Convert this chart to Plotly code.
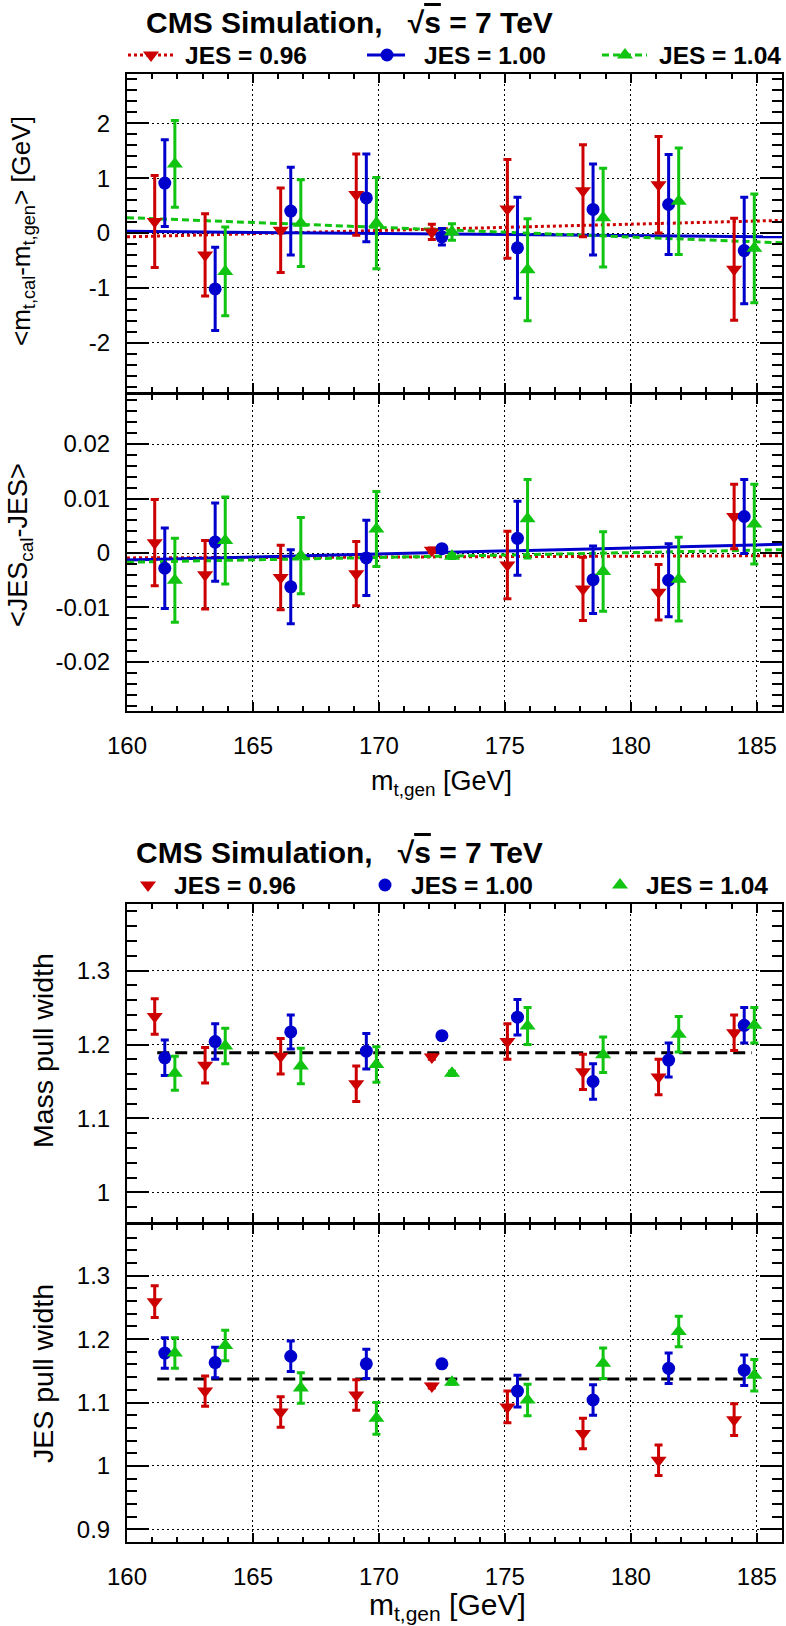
import plotly.graph_objects as go

W, H = 786, 1626

# ------------------------------------------------------------------ data
x_jes096 = [161.1, 163.1, 166.1, 169.1, 172.1, 175.1, 178.1, 181.1, 184.1]
x_jes100 = [161.5, 163.5, 166.5, 169.5, 172.5, 175.5, 178.5, 181.5, 184.5]
x_jes104 = [161.9, 163.9, 166.9, 169.9, 172.9, 175.9, 178.9, 181.9, 184.9]

# <m_cal - m_gen> [GeV]
mbias_096 = [0.21, -0.40, 0.05, 0.70, 0.02, 0.44, 0.77, 0.88, -0.66]
mbias_096_err = [0.84, 0.75, 0.77, 0.74, 0.14, 0.90, 0.84, 0.88, 0.93]
mbias_100 = [0.91, -1.02, 0.40, 0.64, -0.07, -0.27, 0.43, 0.52, -0.32]
mbias_100_err = [0.79, 0.76, 0.80, 0.80, 0.15, 0.92, 0.83, 0.91, 0.97]
mbias_104 = [1.26, -0.70, 0.18, 0.18, 0.02, -0.67, 0.28, 0.58, -0.28]
mbias_104_err = [0.79, 0.81, 0.79, 0.83, 0.15, 0.93, 0.90, 0.97, 0.99]

# <JES_cal - JES>
jbias_096 = [0.0019, -0.0040, -0.0045, -0.0038, 0.0005, -0.0022, -0.0066, -0.0072, 0.0067]
jbias_096_err = [0.0079, 0.0063, 0.0059, 0.0059, 0.0004, 0.0062, 0.0058, 0.0051, 0.0059]
jbias_100 = [-0.0028, 0.0020, -0.0062, -0.0009, 0.0008, 0.0027, -0.0049, -0.0050, 0.0067]
jbias_100_err = [0.0074, 0.0072, 0.0068, 0.0069, 0.0004, 0.0068, 0.0062, 0.0067, 0.0068]
jbias_104 = [-0.0050, 0.0023, -0.0005, 0.0044, -0.0006, 0.0063, -0.0034, -0.0048, 0.0053]
jbias_104_err = [0.0077, 0.0080, 0.0070, 0.0069, 0.0004, 0.0072, 0.0073, 0.0077, 0.0073]

# linear fits (values at the ends of the mass range)
fit_x = [160, 186]
fit_mbias_096 = [-0.07, 0.23]
fit_mbias_100 = [0.03, -0.07]
fit_mbias_104 = [0.28, -0.18]
fit_jbias_096 = [-0.0009, -0.0005]
fit_jbias_100 = [-0.0013, 0.0016]
fit_jbias_104 = [-0.0017, 0.0006]

# mass pull width
mpull_096 = [1.238, 1.172, 1.184, 1.147, 1.183, 1.204, 1.163, 1.156, 1.216]
mpull_096_err = [0.024, 0.024, 0.024, 0.024, 0.003, 0.024, 0.024, 0.024, 0.024]
mpull_100 = [1.182, 1.204, 1.217, 1.191, 1.212, 1.237, 1.150, 1.179, 1.226]
mpull_100_err = [0.024, 0.024, 0.023, 0.024, 0.003, 0.024, 0.024, 0.023, 0.024]
mpull_104 = [1.161, 1.198, 1.171, 1.173, 1.161, 1.225, 1.186, 1.214, 1.226]
mpull_104_err = [0.023, 0.024, 0.024, 0.024, 0.003, 0.025, 0.024, 0.024, 0.024]
mpull_mean_x = [161.2, 184.8]
mpull_mean = [1.189, 1.189]

# JES pull width
jpull_096 = [1.259, 1.118, 1.085, 1.112, 1.126, 1.093, 1.051, 1.009, 1.073]
jpull_096_err = [0.025, 0.024, 0.024, 0.024, 0.003, 0.025, 0.024, 0.024, 0.025]
jpull_100 = [1.178, 1.163, 1.173, 1.161, 1.161, 1.118, 1.104, 1.154, 1.151]
jpull_100_err = [0.024, 0.024, 0.024, 0.023, 0.003, 0.025, 0.024, 0.024, 0.024]
jpull_104 = [1.178, 1.190, 1.123, 1.075, 1.132, 1.104, 1.162, 1.212, 1.143]
jpull_104_err = [0.024, 0.024, 0.024, 0.025, 0.003, 0.025, 0.024, 0.024, 0.025]
jpull_mean_x = [161.2, 184.7]
jpull_mean = [1.137, 1.137]

series_names = ["JES = 0.96", "JES = 1.00", "JES = 1.04"]

x_ticks = [160, 165, 170, 175, 180, 185]
x_ticktext = ["160", "165", "170", "175", "180", "185"]
p1_ticks = [-2, -1, 0, 1, 2]
p1_ticktext = ["-2", "-1", "0", "1", "2"]
p2_ticks = [-0.02, -0.01, 0, 0.01, 0.02]
p2_ticktext = ["-0.02", "-0.01", "0", "0.01", "0.02"]
p3_ticks = [1.0, 1.1, 1.2, 1.3]
p3_ticktext = ["1", "1.1", "1.2", "1.3"]
p4_ticks = [0.9, 1.0, 1.1, 1.2, 1.3]
p4_ticktext = ["0.9", "1", "1.1", "1.2", "1.3"]

# ------------------------------------------------------------------ style
RED, BLUE, GREEN = "#cc0000", "#0000cc", "#11c411"
COLORS = [RED, BLUE, GREEN]
SYMBOLS = ["triangle-down", "circle", "triangle-up"]
MSIZE = [14, 13, 14]
FIT_DASH = ["dot", "solid", "7px,4px"]
FONT = "Liberation Sans, Arial, Helvetica, sans-serif"

X0, X1 = 127, 782
PANELS = {  # top, bottom in pixels
    1: (74, 392), 2: (395, 711), 3: (904, 1222), 4: (1225, 1542)}


def ydom(k):
    t, b = PANELS[k]
    return [1 - b / H, 1 - t / H]


fig = go.Figure()


def add_points(k, xs, ys, errs):
    for i in range(3):
        fig.add_trace(go.Scatter(
            x=xs[i], y=ys[i], mode="markers", name=series_names[i],
            marker=dict(symbol=SYMBOLS[i], size=MSIZE[i], color=COLORS[i],
                        line=dict(width=0)),
            error_y=dict(type="data", array=errs[i], color=COLORS[i],
                         thickness=3, width=4),
            xaxis="x%d" % k, yaxis="y%d" % k, showlegend=False))


xs = [x_jes096, x_jes100, x_jes104]

# panel 1
for i, f in enumerate([fit_mbias_096, fit_mbias_100, fit_mbias_104]):
    fig.add_trace(go.Scatter(x=fit_x, y=f, mode="lines",
                             line=dict(color=COLORS[i], width=3, dash=FIT_DASH[i]),
                             xaxis="x1", yaxis="y1", showlegend=False))
add_points(1, xs, [mbias_096, mbias_100, mbias_104],
           [mbias_096_err, mbias_100_err, mbias_104_err])
# panel 2
for i, f in enumerate([fit_jbias_096, fit_jbias_100, fit_jbias_104]):
    fig.add_trace(go.Scatter(x=fit_x, y=f, mode="lines",
                             line=dict(color=COLORS[i], width=3, dash=FIT_DASH[i]),
                             xaxis="x2", yaxis="y2", showlegend=False))
add_points(2, xs, [jbias_096, jbias_100, jbias_104],
           [jbias_096_err, jbias_100_err, jbias_104_err])
# panel 3
fig.add_trace(go.Scatter(x=mpull_mean_x, y=mpull_mean, mode="lines",
                         line=dict(color="black", width=3, dash="12px,6px"),
                         xaxis="x3", yaxis="y3", showlegend=False))
add_points(3, xs, [mpull_096, mpull_100, mpull_104],
           [mpull_096_err, mpull_100_err, mpull_104_err])
# panel 4
fig.add_trace(go.Scatter(x=jpull_mean_x, y=jpull_mean, mode="lines",
                         line=dict(color="black", width=3, dash="12px,6px"),
                         xaxis="x4", yaxis="y4", showlegend=False))
add_points(4, xs, [jpull_096, jpull_100, jpull_104],
           [jpull_096_err, jpull_100_err, jpull_104_err])

# ------------------------------------------------------------------ legends (pixel overlay axis)
LEG_TOP_Y = 55
LEG_TOP = [(128, 173, 151, 183), (367, 405, 387, 422), (602, 647, 625, 657)]
LEG_BOT_Y = 885
LEG_BOT = [(148, 172), (385, 409), (620, 644)]

annotations = []
for i, (a, b, m, t) in enumerate(LEG_TOP):
    fig.add_trace(go.Scatter(x=[a, b], y=[LEG_TOP_Y, LEG_TOP_Y], mode="lines",
                             line=dict(color=COLORS[i], width=3, dash=FIT_DASH[i]),
                             xaxis="x5", yaxis="y5", showlegend=False, hoverinfo="skip"))
    fig.add_trace(go.Scatter(x=[m], y=[LEG_TOP_Y], mode="markers",
                             marker=dict(symbol=SYMBOLS[i], size=MSIZE[i], color=COLORS[i]),
                             xaxis="x5", yaxis="y5", showlegend=False, hoverinfo="skip"))
    annotations.append(dict(x=t, y=LEG_TOP_Y, xref="x5", yref="y5", xanchor="left",
                            yanchor="middle", showarrow=False,
                            text="<b>%s</b>" % series_names[i],
                            font=dict(family=FONT, size=24.5, color="black")))
for i, (m, t) in enumerate(LEG_BOT):
    fig.add_trace(go.Scatter(x=[m], y=[LEG_BOT_Y], mode="markers",
                             marker=dict(symbol=SYMBOLS[i], size=MSIZE[i], color=COLORS[i]),
                             xaxis="x5", yaxis="y5", showlegend=False, hoverinfo="skip"))
    annotations.append(dict(x=t, y=LEG_BOT_Y, xref="x5", yref="y5", xanchor="left",
                            yanchor="middle", showarrow=False,
                            text="<b>%s</b>" % series_names[i],
                            font=dict(family=FONT, size=24.5, color="black")))

title_txt = ("<b>CMS Simulation,\u00a0\u00a0\u00a0\u221a"
             "<span style='text-decoration:overline'>s</span> = 7 TeV</b>")
annotations.append(dict(x=144, y=22, xref="x5", yref="y5", xanchor="left", yanchor="middle",
                        showarrow=False, text=title_txt,
                        font=dict(family=FONT, size=30, color="black")))
annotations.append(dict(x=134, y=852, xref="x5", yref="y5", xanchor="left", yanchor="middle",
                        showarrow=False, text=title_txt,
                        font=dict(family=FONT, size=30, color="black")))


def ytitle(text, x, y, size):
    annotations.append(dict(x=x, y=y, xref="x5", yref="y5", xanchor="center",
                            yanchor="middle", textangle=-90, showarrow=False, text=text,
                            font=dict(family=FONT, size=size, color="black")))


ytitle("&lt;m<sub>t,cal</sub>-m<sub>t,gen</sub>&gt; [GeV]", 22, 231, 26)
ytitle("&lt;JES<sub>cal</sub>-JES&gt;", 20, 545, 27)
ytitle("Mass pull width", 43, 1051, 28.5)
ytitle("JES pull width", 43, 1374, 28.5)
annotations.append(dict(x=441, y=783, xref="x5", yref="y5", xanchor="center", yanchor="middle",
                        showarrow=False, text="m<sub>t,gen</sub> [GeV]",
                        font=dict(family=FONT, size=27, color="black")))
annotations.append(dict(x=447, y=1606, xref="x5", yref="y5", xanchor="center", yanchor="middle",
                        showarrow=False, text="m<sub>t,gen</sub> [GeV]",
                        font=dict(family=FONT, size=30, color="black")))

# ------------------------------------------------------------------ axes
TICKFONT = dict(family=FONT, size=24, color="black")


def xaxis(k, labels):
    return dict(domain=[X0 / W, X1 / W], range=[160, 186], anchor="y%d" % k,
                tickmode="array", tickvals=x_ticks, ticktext=x_ticktext,
                ticks="inside", ticklen=9, tickwidth=1.5, tickcolor="black",
                minor=dict(ticks="inside", ticklen=5, tickwidth=1.5, tickcolor="black",
                           tickmode="linear", tick0=160, dtick=1),
                showline=True, linewidth=2, linecolor="black", mirror="ticks",
                showgrid=True, gridcolor="black", gridwidth=1, griddash="2px,3px",
                zeroline=False, showticklabels=labels, tickfont=TICKFONT,
                ticklabelstandoff=12)


def yaxis(k, rng, tv, tt, minor_dtick):
    return dict(domain=ydom(k), range=rng, anchor="x%d" % k,
                tickmode="array", tickvals=tv, ticktext=tt,
                ticks="inside", ticklen=22, tickwidth=1.5, tickcolor="black",
                minor=dict(ticks="inside", ticklen=10, tickwidth=1.5, tickcolor="black",
                           tickmode="linear", tick0=0, dtick=minor_dtick),
                showline=True, linewidth=2, linecolor="black", mirror="ticks",
                showgrid=True, gridcolor="black", gridwidth=1, griddash="2px,3px",
                zeroline=False, showticklabels=True, tickfont=TICKFONT,
                ticklabelstandoff=10)


layout = dict(
    width=W, height=H, margin=dict(l=0, r=0, t=0, b=0, autoexpand=False),
    paper_bgcolor="white", plot_bgcolor="rgba(0,0,0,0)",
    font=dict(family=FONT, color="black"),
    xaxis1=xaxis(1, False), xaxis2=xaxis(2, True),
    xaxis3=xaxis(3, False), xaxis4=xaxis(4, True),
    yaxis1=yaxis(1, [-2.9, 2.9], p1_ticks, p1_ticktext, 0.2),
    yaxis2=yaxis(2, [-0.029, 0.029], p2_ticks, p2_ticktext, 0.002),
    yaxis3=yaxis(3, [0.96, 1.39], p3_ticks, p3_ticktext, 0.02),
    yaxis4=yaxis(4, [0.88, 1.38], p4_ticks, p4_ticktext, 0.02),
    xaxis5=dict(domain=[0, 1], range=[0, W], anchor="y5", visible=False, fixedrange=True),
    yaxis5=dict(domain=[0, 1], range=[H, 0], anchor="x5", visible=False, fixedrange=True),
    annotations=annotations, showlegend=False,
)
fig.update_layout(**layout)
fig.write_html("out.html", config={"displayModeBar": False},
               post_script="document.body.style.margin='0';"
                           "document.body.style.overflow='hidden';")
